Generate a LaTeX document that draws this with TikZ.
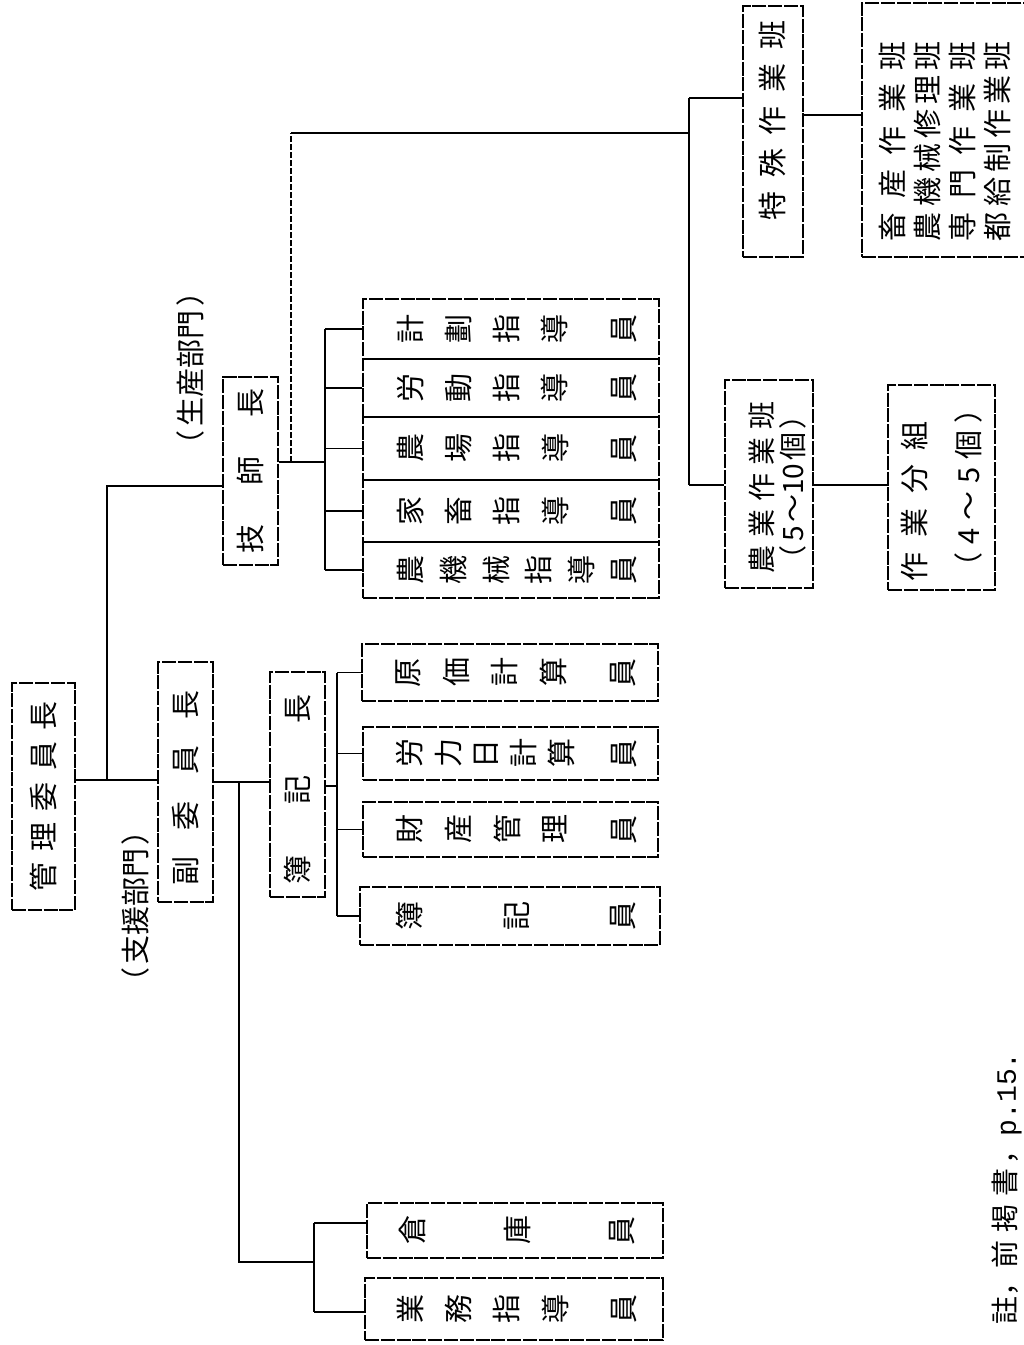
\documentclass[tikz,border=0pt]{standalone}
\usepackage{fontspec}
\setmainfont{Noto Sans CJK JP}
\newfontfamily\capmono{Liberation Mono}
\usepackage{graphicx}
\newcommand\rc[1]{\rotatebox[origin=c]{90}{#1}}
\begin{document}
\begin{tikzpicture}[x=1pt,y=-1pt,
  box/.style={draw, line width=1.3pt, dash pattern=on 14pt off 1.8pt, inner sep=0pt, font=\fontsize{29}{34}\selectfont},
  lbl/.style={inner sep=0pt, font=\fontsize{29}{34}\selectfont},
  conn/.style={line width=1.8pt},
  dconn/.style={line width=1.3pt, dash pattern=on 6pt off 2pt}]
\useasboundingbox (0,0) rectangle (1024,1345);

% ---------- left column ----------
\node[box, minimum width=63pt, minimum height=227pt] (kanri) at (43.5,796.5)
  {\rotatebox{90}{\makebox[190pt]{管\hfill 理\hfill 委\hfill 員\hfill 長}}};
\node[lbl] (shien) at (135,906)
  {\rotatebox{90}{\makebox[180pt]{（\hfill 支援部門\hfill ）}}};
\node[box, minimum width=55pt, minimum height=240pt] (fuku) at (185.5,782)
  {\rotatebox{90}{\makebox[195pt]{副\hfill 委\hfill 員\hfill 長}\hspace*{12pt}}};
\node[box, minimum width=55pt, minimum height=225pt] (bokicho) at (297.5,784.5)
  {\rotatebox{90}{\makebox[190pt]{簿\hfill 記\hfill 長}\hspace*{10pt}}};
\node[box, minimum width=55pt, minimum height=188pt] (gishi) at (250.5,471)
  {\rotatebox{90}{\makebox[165pt]{技\hfill 師\hfill 長}}};
\node[lbl] (seisan) at (190,368)
  {\rotatebox{90}{\makebox[182pt]{（\hfill 生産部門\hfill ）}}};

% ---------- staff under 簿記長 ----------
\node[box, minimum width=296pt, minimum height=57pt] (genka) at (510,672.5)
  {\hspace*{12pt}\makebox[240pt]{\rc{原}\hfill\rc{価}\hfill\rc{計}\hfill\rc{算}\hfill\hfill\rc{員}}};
\node[box, minimum width=295pt, minimum height=53pt] (roryoku) at (510.5,753.5)
  {\hspace*{12pt}\makebox[240pt]{\rc{労}\hfill\rc{力}\hfill\rc{日}\hfill\rc{計}\hfill\rc{算}\hfill\hfill\hfill\rc{員}}};
\node[box, minimum width=295pt, minimum height=55pt] (zaisan) at (510.5,829.5)
  {\hspace*{12pt}\makebox[240pt]{\rc{財}\hfill\rc{産}\hfill\rc{管}\hfill\rc{理}\hfill\hfill\rc{員}}};
\node[box, minimum width=300pt, minimum height=58pt] (bokiin) at (510,916)
  {\hspace*{12pt}\makebox[240pt]{\rc{簿}\hfill\rc{記}\hfill\rc{員}}};

% ---------- staff under 副委員長 ----------
\node[box, minimum width=296pt, minimum height=55pt] (soko) at (515,1230.5)
  {\hspace*{4pt}\makebox[236pt]{\rc{倉}\hfill\rc{庫}\hfill\rc{員}}};
\node[box, minimum width=298pt, minimum height=62pt] (gyomu) at (514,1309)
  {\hspace*{6pt}\makebox[240pt]{\rc{業}\hfill\rc{務}\hfill\rc{指}\hfill\rc{導}\hfill\hfill\rc{員}}};

% ---------- instructors under 技師長 ----------
\node[box, minimum width=296pt, minimum height=60pt] (keikaku) at (511,329)
  {\hspace*{12pt}\makebox[240pt]{\rc{計}\hfill\rc{劃}\hfill\rc{指}\hfill\rc{導}\hfill\hfill\rc{員}}};
\node[box, minimum width=296pt, minimum height=58pt] (rodo) at (511,388)
  {\hspace*{12pt}\makebox[240pt]{\rc{労}\hfill\rc{動}\hfill\rc{指}\hfill\rc{導}\hfill\hfill\rc{員}}};
\node[box, minimum width=296pt, minimum height=63pt] (nojo) at (511,448.5)
  {\hspace*{12pt}\makebox[240pt]{\rc{農}\hfill\rc{場}\hfill\rc{指}\hfill\rc{導}\hfill\hfill\rc{員}}};
\node[box, minimum width=296pt, minimum height=62pt] (kachiku) at (511,511)
  {\hspace*{12pt}\makebox[240pt]{\rc{家}\hfill\rc{畜}\hfill\rc{指}\hfill\rc{導}\hfill\hfill\rc{員}}};
\node[box, minimum width=296pt, minimum height=56pt] (noki) at (511,570)
  {\hspace*{12pt}\makebox[240pt]{\rc{農}\hfill\rc{機}\hfill\rc{械}\hfill\rc{指}\hfill\rc{導}\hfill\rc{員}}};

% ---------- work teams ----------
\node[box, minimum width=60pt, minimum height=251pt] (tokushu) at (773,131.5)
  {\rotatebox{90}{\hspace*{22pt}\makebox[200pt]{特\hfill 殊\hfill 作\hfill 業\hfill 班}}};
\node[box, minimum width=166pt, minimum height=254pt] (teams) at (945,130) {};
\node[lbl, rotate=90, align=left, font=\fontsize{29}{35}\selectfont] (teamsT) at (945,141)
  {\makebox[200pt]{畜\hfill 産\hfill 作\hfill 業\hfill 班}\\
   \makebox[200pt]{農\hfill 機\hfill 械\hfill 修\hfill 理\hfill 班}\\
   \makebox[200pt]{専\hfill 門\hfill 作\hfill 業\hfill 班}\\
   \makebox[200pt]{都\hfill 給\hfill 制\hfill 作\hfill 業\hfill 班}};
\node[box, minimum width=88pt, minimum height=208pt] (nogyo) at (769,484) {};
\node[lbl, rotate=90, align=left, font=\fontsize{28}{31}\selectfont] (nogyoT) at (777.5,487)
  {\makebox[172pt]{農\hfill 業\hfill 作\hfill 業\hfill 班}\\
   \makebox[172pt]{（\hfill 5\hfill ～10\hfill 個\hfill ）}};
\node[box, minimum width=107pt, minimum height=205pt] (sagyo) at (941.5,487.5) {};
\node[lbl, rotate=90, align=left, font=\fontsize{29}{54}\selectfont] (sagyoT) at (941.5,487.5)
  {\makebox[160pt]{作\hfill 業\hfill 分\hfill 組}\\
   \makebox[187pt]{（\hfill 4\hfill ～\hfill 5\hfill 個\hfill ）}};

% ---------- caption ----------
\node[lbl, anchor=north, font=\fontsize{28}{32}\selectfont] (cap) at (1007,1052)
  {\rotatebox{90}{註，前\hspace{8pt}掲\hspace{8pt}書\hspace{4pt}，{\capmono\fontsize{28}{32}\selectfont p.15.}}};

% ---------- connectors ----------
% 管理委員長 -> 副委員長 / 技師長
\coordinate (a1) at (107,780);
\coordinate (a2) at (107,486);
\draw[conn] (kanri.east |- a1) -- (fuku.west |- a1);
\draw[conn] (a1) -- (a2) -- (gishi.west |- a2);

% 副委員長 -> 簿記長 and lower staff
\coordinate (b1) at (239,782);
\coordinate (b2) at (239,1262);
\coordinate (b3) at (314,1262);
\coordinate (b4) at (314,1223);
\coordinate (b5) at (314,1312);
\draw[conn] (fuku.east |- b1) -- (bokicho.west |- b1);
\draw[conn] (b1) -- (b2) -- (b3);
\draw[conn] (b4) -- (b5);
\draw[conn] (b4) -- (soko.west |- b4);
\draw[conn] (b5) -- (gyomu.west |- b5);

% 簿記長 -> staff
\coordinate (c1) at (337,786);
\draw[conn] (bokicho.east |- c1) -- (c1);
\draw[conn] (c1 |- genka.west) -- (c1 |- bokiin.west);
\foreach \n in {genka,roryoku,zaisan,bokiin}
  \draw[conn] (c1 |- \n.west) -- (\n.west);

% 技師長 -> instructors
\coordinate (d1) at (325,462);
\coordinate (d0) at (291,462);
\draw[conn] (gishi.east |- d1) -- (d1);
\draw[conn] (d1 |- keikaku.west) -- (d1 |- noki.west);
\foreach \n in {keikaku,rodo,nojo,kachiku,noki}
  \draw[conn] (d1 |- \n.west) -- (\n.west);

% 技師長 -> work teams
\coordinate (e1) at (291,133);
\coordinate (e2) at (689,133);
\coordinate (e3) at (689,98);
\coordinate (e4) at (689,485);
\draw[dconn] (d0) -- (e1);
\draw[conn] (e1) -- (e2);
\draw[conn] (e3) -- (e4);
\draw[conn] (e3) -- (tokushu.west |- e3);
\draw[conn] (e4) -- (nogyo.west |- e4);
\draw[conn] (tokushu.east |- 0,115) -- (teams.west |- 0,115);
\draw[conn] (nogyo.east |- e4) -- (sagyo.west |- e4);
\end{tikzpicture}
\end{document}
